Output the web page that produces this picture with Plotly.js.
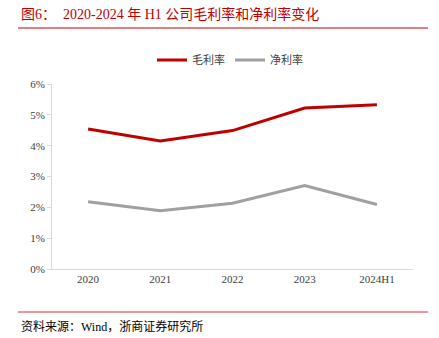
<!DOCTYPE html>
<html><head><meta charset="utf-8">
<script src="https://cdn.plot.ly/plotly-3.0.1.min.js"></script>
<style>html,body{margin:0;padding:0;background:#fff}#c{width:439px;height:338px}</style>
</head><body><div id="c"></div>
<script>
const categories = ["2020", "2021", "2022", "2023", "2024H1"];
const grossMargin = [4.54, 4.15, 4.49, 5.22, 5.33];
const netMargin = [2.18, 1.89, 2.13, 2.71, 2.09];
const yTicks = [0, 1, 2, 3, 4, 5, 6];
const yTickLabels = ["0%", "1%", "2%", "3%", "4%", "5%", "6%"];

const FONT = "Liberation Serif, Times New Roman, Noto Sans CJK SC, serif";
const L = 52, R = 413, T = 84, B = 269;
const px = x => (x - L) / (R - L);
const py = y => (B - y) / (B - T);

const traces = [
  {x: categories, y: grossMargin, name: "毛利率", type: "scatter", mode: "lines",
   line: {color: "#c00000", width: 3}},
  {x: categories, y: netMargin, name: "净利率", type: "scatter", mode: "lines",
   line: {color: "#a0a0a0", width: 3}}
];

const layout = {
  width: 439, height: 338,
  margin: {l: L, r: 439 - R, t: T, b: 338 - B},
  paper_bgcolor: "#fff", plot_bgcolor: "#fff",
  font: {family: FONT, size: 11, color: "#404040"},
  showlegend: true,
  legend: {orientation: "h", x: px(230), xanchor: "center", y: py(60), yanchor: "middle",
           font: {family: FONT, size: 11, color: "#404040"}, itemwidth: 30, traceorder: "normal"},
  xaxis: {type: "category", range: [-0.5, 4.5], showgrid: false, zeroline: false,
          showline: true, linecolor: "#d9d9d9", linewidth: 1, ticks: "", 
          tickfont: {family: FONT, size: 11, color: "#404040"}, fixedrange: true},
  yaxis: {range: [0, 6], tickvals: yTicks, ticktext: yTickLabels, showgrid: false, zeroline: false,
          showline: true, linecolor: "#d9d9d9", linewidth: 1, ticks: "outside", ticklen: 4,
          tickcolor: "#d9d9d9", tickfont: {family: FONT, size: 11, color: "#404040"}, fixedrange: true},
  shapes: [
    {type: "line", xref: "paper", yref: "paper", x0: px(18), x1: px(428), y0: py(28), y1: py(28),
     line: {color: "#c00000", width: 1}},
    {type: "line", xref: "paper", yref: "paper", x0: px(18), x1: px(428), y0: py(312), y1: py(312),
     line: {color: "#e03030", width: 1}}
  ],
  annotations: [
    {text: "图6：  2020-2024 年 H1 公司毛利率和净利率变化", xref: "paper", yref: "paper",
     x: px(19), y: py(14), xanchor: "left", yanchor: "middle", showarrow: false,
     font: {family: FONT, size: 14, color: "#c00000"}},
    {text: "资料来源：Wind，浙商证券研究所", xref: "paper", yref: "paper",
     x: px(19), y: py(326), xanchor: "left", yanchor: "middle", showarrow: false,
     font: {family: FONT, size: 12, color: "#000"}}
  ]
};
Plotly.newPlot("c", traces, layout, {displayModeBar: false, staticPlot: true});
</script></body></html>
